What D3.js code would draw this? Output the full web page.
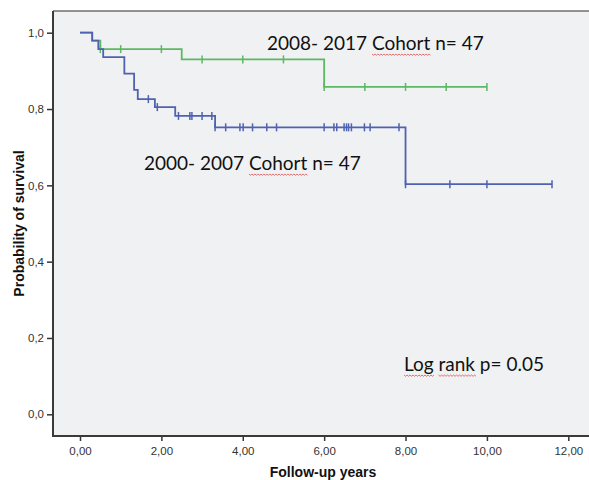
<!DOCTYPE html>
<html><head><meta charset="utf-8">
<script src="https://cdn.jsdelivr.net/npm/d3@7"></script>
<style>body{margin:0;background:#fff}svg{display:block}</style>
</head><body>
<svg id="c" width="589" height="480"></svg>
<script>
// ---- data ----
const xTicks = [0, 2, 4, 6, 8, 10, 12];
const yTicks = [0, 0.2, 0.4, 0.6, 0.8, 1.0];
const greenTimes = [0, 0.30, 0.50, 2.50, 6.00, 10.00];
const greenSurv  = [1.0, 0.979, 0.957, 0.930, 0.858, 0.858];
const greenCensor = [0.5, 1.0, 2.0, 3.0, 4.0, 5.0, 6.0, 7.0, 8.0, 9.0, 10.0];
const blueTimes = [0, 0.30, 0.45, 0.57, 1.09, 1.33, 1.42, 1.84, 2.34, 3.32, 8.00, 11.60];
const blueSurv  = [1.0, 0.979, 0.957, 0.936, 0.893, 0.850, 0.826, 0.805, 0.782, 0.752, 0.603, 0.603];
const blueCensor = [1.68, 1.90, 2.42, 2.70, 2.75, 3.0, 3.24, 3.32, 3.58, 3.93, 4.01, 4.24, 4.59, 4.83,
  6.0, 6.24, 6.31, 6.49, 6.55, 6.60, 6.67, 6.99, 7.13, 7.84, 8.0, 9.09, 10.0, 11.6];
const labels = {
  green: "2008- 2017 Cohort n= 47",
  blue: "2000- 2007 Cohort n= 47",
  logrank: "Log rank p= 0.05",
  xTitle: "Follow-up years",
  yTitle: "Probability of survival"
};

// ---- layout ----
const svg = d3.select("#c");
const frame = {l: 53, t: 11, r: 592, b: 436};
const x = d3.scaleLinear().domain([0, 12]).range([80, 568.3]);
const y = d3.scaleLinear().domain([0, 1]).range([414.3, 32.7]);
const fmt = d3.format(".2f"), fmty = d3.format(".1f");
const comma = s => s.replace(".", ",");

svg.append("rect").attr("x", frame.l).attr("y", frame.t)
  .attr("width", frame.r - frame.l).attr("height", frame.b - frame.t)
  .attr("fill", "#f0f1f3");
svg.append("line").attr("x1", frame.l).attr("x2", frame.r).attr("y1", frame.t).attr("y2", frame.t)
  .attr("stroke", "#6e6e6e").attr("stroke-width", 1.5);

const yAxis = svg.append("g").attr("transform", `translate(${frame.l},0)`)
  .call(d3.axisLeft(y).tickValues(yTicks).tickSize(6).tickPadding(3).tickFormat(d => comma(fmty(d))));
const xAxis = svg.append("g").attr("transform", `translate(0,${frame.b})`)
  .call(d3.axisBottom(x).tickValues(xTicks).tickSize(5).tickPadding(6).tickFormat(d => comma(fmt(d))));
[yAxis, xAxis].forEach(g => {
  g.select(".domain").remove();
  g.selectAll(".tick line").attr("stroke", "#333").attr("stroke-width", 1.5);
  g.selectAll("text").attr("fill", "#333").style("font-family", "Liberation Sans, Arial, sans-serif").style("font-size", "11.5px");
});
svg.append("line").attr("x1", frame.l).attr("x2", frame.l).attr("y1", frame.t).attr("y2", frame.b + 1)
  .attr("stroke", "#3a3a3a").attr("stroke-width", 2);
svg.append("line").attr("x1", frame.l - 1).attr("x2", frame.r).attr("y1", frame.b).attr("y2", frame.b)
  .attr("stroke", "#3a3a3a").attr("stroke-width", 2);

// axis titles
svg.append("text").attr("x", (frame.l + 589) / 2 + 2).attr("y", 477).attr("text-anchor", "middle")
  .style("font-family", "Liberation Sans, Arial, sans-serif").style("font-size", "14px").style("font-weight", "bold")
  .attr("fill", "#111").text(labels.xTitle);
svg.append("text").attr("transform", `translate(24,${(frame.t + frame.b) / 2}) rotate(-90)`).attr("text-anchor", "middle")
  .style("font-family", "Liberation Sans, Arial, sans-serif").style("font-size", "14px").style("font-weight", "bold")
  .attr("fill", "#111").text(labels.yTitle);

// curves
function drawKM(times, surv, censor, color) {
  const pts = times.map((t, i) => [t, surv[i]]);
  svg.append("path").datum(pts)
    .attr("d", d3.line().x(d => x(d[0])).y(d => y(d[1])).curve(d3.curveStepAfter))
    .attr("fill", "none").attr("stroke", color).attr("stroke-width", 1.8);
  const sAt = t => { let s = surv[0]; times.forEach((tt, i) => { if (tt <= t + 1e-9) s = surv[i]; }); return s; };
  svg.append("g").selectAll("line").data(censor).join("line")
    .attr("x1", d => x(d)).attr("x2", d => x(d))
    .attr("y1", d => y(sAt(d)) - 4).attr("y2", d => y(sAt(d)) + 4)
    .attr("stroke", color).attr("stroke-width", 1.5);
}
drawKM(greenTimes, greenSurv, greenCensor, "#5cb864");
drawKM(blueTimes, blueSurv, blueCensor, "#4f62b0");

// annotations
function note(txt, xp, yp, words) {
  const t = svg.append("text").attr("x", xp).attr("y", yp)
    .style("font-family", "Lato, 'Open Sans', sans-serif").style("font-size", "19px")
    .attr("fill", "#111").text(txt);
  const node = t.node();
  words.forEach(w => {
    const i = txt.indexOf(w);
    const x0 = xp + node.getSubStringLength(0, i);
    const wl = node.getSubStringLength(i, w.length);
    let d = `M${x0},${yp + 4}`;
    for (let k = 0, xx = x0; xx < x0 + wl; k++, xx += 1.5) d += `L${xx + 1.5},${yp + 4 + (k % 2 ? 0 : 1.3)}`;
    svg.append("path").attr("d", d).attr("fill", "none").attr("stroke", "#e05050").attr("stroke-width", 0.8);
  });
}
note(labels.green, 267, 50, ["Cohort"]);
note(labels.blue, 144, 170, ["Cohort"]);
note(labels.logrank, 404, 371, ["Log", "rank"]);
</script>
</body></html>
